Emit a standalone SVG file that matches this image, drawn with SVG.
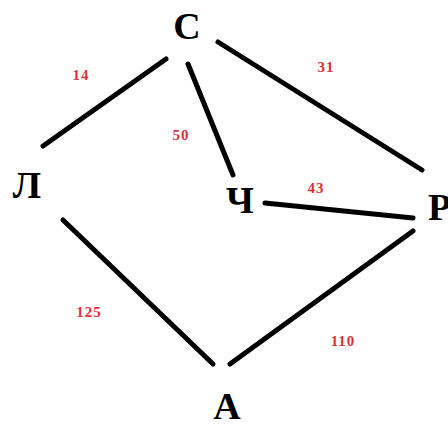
<svg xmlns="http://www.w3.org/2000/svg" width="448" height="425" viewBox="0 0 448 425">
<style>
.n{font-family:"Liberation Serif","DejaVu Serif",serif;font-weight:bold;font-size:38px;fill:#000}
.w{font-family:"Liberation Serif","DejaVu Serif",serif;font-weight:bold;font-size:15px;fill:#dc2f3c;letter-spacing:1px}
.e{stroke:#000;stroke-width:5;stroke-linecap:round;fill:none}
</style>
<rect width="448" height="425" fill="#fff"/>
<g id="edges">
<line class="e" x1="166" y1="59" x2="43" y2="146"/>
<line class="e" x1="188" y1="64" x2="233" y2="175"/>
<line class="e" x1="218" y1="42" x2="422" y2="170"/>
<line class="e" x1="265" y1="203" x2="413" y2="218"/>
<line class="e" x1="63" y1="220" x2="213" y2="364"/>
<line class="e" x1="413" y1="231" x2="230" y2="364"/>
<text class="w" x="81" y="80" text-anchor="middle">14</text>
<text class="w" x="181" y="140" text-anchor="middle">50</text>
<text class="w" x="326" y="72" text-anchor="middle">31</text>
<text class="w" x="316" y="193" text-anchor="middle">43</text>
<text class="w" x="89" y="317" text-anchor="middle">125</text>
<text class="w" x="343" y="346" text-anchor="middle">110</text>
</g>
<g id="node-S"><text class="n" x="187" y="39" text-anchor="middle">С</text></g>
<g id="node-L"><text class="n" x="27" y="198" text-anchor="middle">Л</text></g>
<g id="node-Ch"><text class="n" x="240" y="213" text-anchor="middle">Ч</text></g>
<g id="node-R"><text class="n" x="428" y="220">Р</text></g>
<g id="node-A"><text class="n" x="227" y="419" text-anchor="middle">А</text></g>
</svg>
